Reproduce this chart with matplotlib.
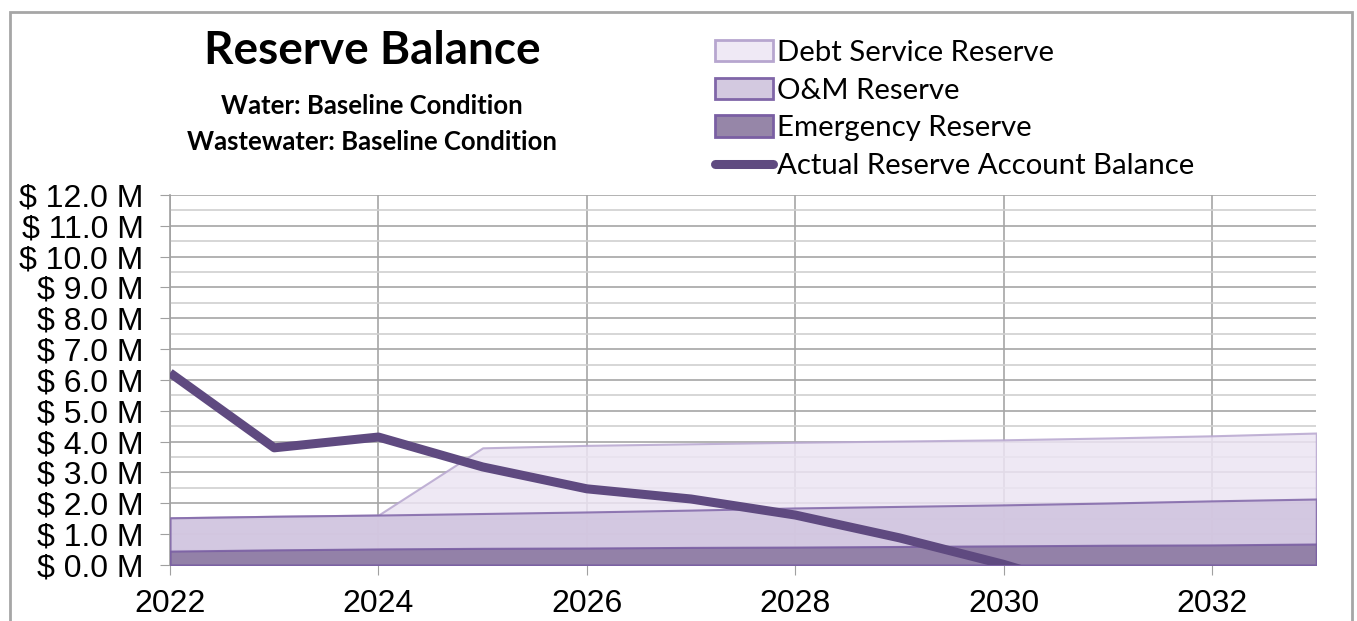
import matplotlib.pyplot as plt
import numpy as np
from matplotlib.patches import Patch
from matplotlib.lines import Line2D

# values in $ millions
years = [2022, 2023, 2024, 2025, 2026, 2027, 2028, 2029, 2030, 2031, 2032, 2033]
debt_service = [1.53, 1.58, 1.62, 3.80, 3.88, 3.93, 3.98, 4.02, 4.06, 4.12, 4.19, 4.28]
om_reserve = [1.53, 1.58, 1.62, 1.67, 1.72, 1.78, 1.85, 1.90, 1.95, 2.01, 2.08, 2.14]
emergency = [0.45, 0.49, 0.52, 0.54, 0.55, 0.57, 0.58, 0.60, 0.62, 0.64, 0.65, 0.68]
actual = [6.23, 3.80, 4.15, 3.18, 2.47, 2.14, 1.62, 0.88, 0.02, -1.0, -2.0, -3.0]

y_ticks = np.arange(0, 13, 1)
x_ticks = [2022, 2024, 2026, 2028, 2030, 2032]

plt.rcParams['font.family'] = ['Liberation Sans', 'DejaVu Sans']

fig = plt.figure(figsize=(13.57, 6.21), dpi=100)
ax = fig.add_axes([0.1253, 0.0902, 0.8447, 0.5958])

ax.fill_between(years, 0, debt_service, facecolor='#ece4f3', edgecolor='#b7a6cf',
                linewidth=1.5, alpha=0.85, zorder=2)
ax.fill_between(years, 0, om_reserve, facecolor='#cfc3de', edgecolor='#8066a8',
                linewidth=1.5, alpha=0.85, zorder=3)
ax.fill_between(years, 0, emergency, facecolor='#8c7aa2', edgecolor='#7a5fa3',
                linewidth=1.5, alpha=0.9, zorder=4)
ax.plot(years, actual, color='#5f4a80', linewidth=6.5, solid_capstyle='butt', zorder=5)

ax.set_xlim(2022, 2033)
ax.set_ylim(0, 12)
ax.set_yticks(y_ticks)
ax.set_yticklabels([f'$ {v:.1f} M' for v in y_ticks])
ax.set_yticks(np.arange(0.5, 12, 1), minor=True)
ax.set_xticks(x_ticks)
ax.tick_params(axis='both', labelsize=23, length=7, color='#a0a0a0')
ax.tick_params(axis='y', pad=12)
ax.tick_params(axis='x', pad=10)
ax.tick_params(axis='y', which='minor', length=0)
ax.grid(axis='y', which='major', color='#a6a6a6', linewidth=1.2, zorder=1)
ax.grid(axis='y', which='minor', color='#d0d0d0', linewidth=1.2, zorder=1)
ax.grid(axis='x', color='#a6a6a6', linewidth=1.2, zorder=1)
ax.set_axisbelow(True)
for s in ['top', 'right', 'bottom']:
    ax.spines[s].set_visible(False)
ax.spines['left'].set_color('#a0a0a0')
ax.spines['left'].set_linewidth(1.2)

fig.text(0.274, 0.918, 'Reserve Balance', ha='center', va='center', fontsize=33,
         fontweight='bold', family=['Lato', 'DejaVu Sans'])
fig.text(0.274, 0.83, 'Water: Baseline Condition', ha='center', va='center', fontsize=18.5,
         fontweight='bold', family=['Lato', 'DejaVu Sans'])
fig.text(0.274, 0.772, 'Wastewater: Baseline Condition', ha='center', va='center', fontsize=18.5,
         fontweight='bold', family=['Lato', 'DejaVu Sans'])

handles = [
    Patch(facecolor='#efe9f5', edgecolor='#b7a6cf', linewidth=2, label='Debt Service Reserve'),
    Patch(facecolor='#d3c9e0', edgecolor='#8066a8', linewidth=2, label='O&M Reserve'),
    Patch(facecolor='#9686a8', edgecolor='#7a5fa3', linewidth=2, label='Emergency Reserve'),
    Line2D([0], [0], color='#5f4a80', linewidth=6.5, solid_capstyle='round',
           label='Actual Reserve Account Balance'),
]
fig.legend(handles=handles, loc='upper left', bbox_to_anchor=(0.5185, 0.955), frameon=False,
           prop={'family': ['Lato', 'DejaVu Sans'], 'size': 21.2}, handlelength=1.95,
           handleheight=0.75, handletextpad=0.15, labelspacing=0.4, borderaxespad=0)

# outer chart frame
fig.add_artist(plt.Rectangle((0.0074, -0.05), 0.989, 1.031, transform=fig.transFigure,
                             fill=False, edgecolor='#a6a6a6', linewidth=2))

fig.savefig('out.png', dpi=100)
